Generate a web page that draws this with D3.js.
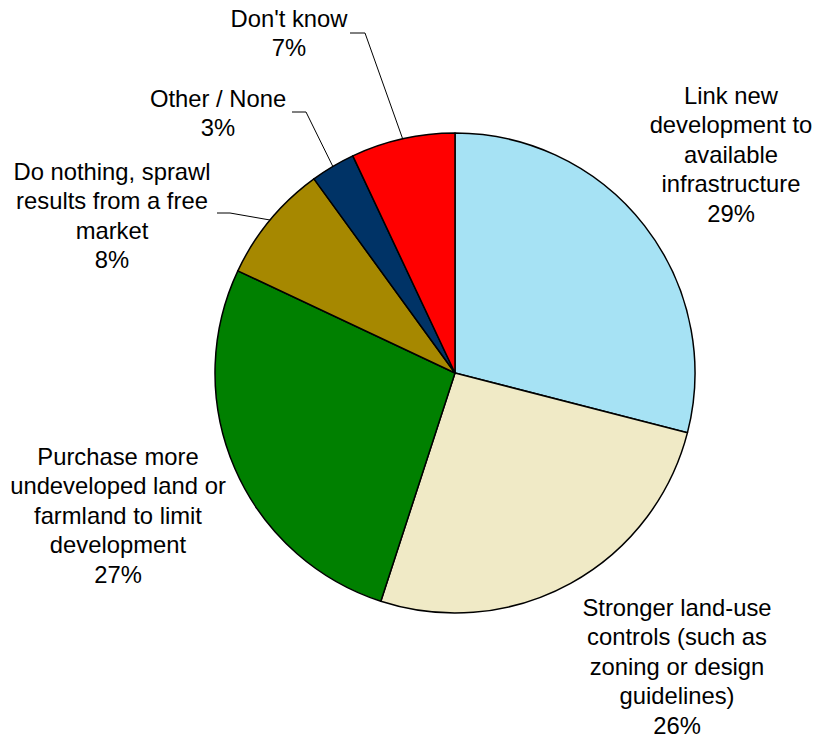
<!DOCTYPE html>
<html>
<head>
<meta charset="utf-8">
<script src="https://cdn.jsdelivr.net/npm/d3@7"></script>
<style>
  html, body { margin: 0; padding: 0; background: #ffffff; }
  svg { display: block; }
  text { font-family: "Liberation Sans", Arial, sans-serif; fill: #000; }
</style>
</head>
<body>
<svg id="chart" width="815" height="738"></svg>
<script>
// Survey answers, clockwise from 12 o'clock
const categories = [
  "Link new development to available infrastructure",
  "Stronger land-use controls (such as zoning or design guidelines)",
  "Purchase more undeveloped land or farmland to limit development",
  "Do nothing, sprawl results from a free market",
  "Other / None",
  "Don't know"
];
const values = [29, 26, 27, 8, 3, 7];
const percentLabels = ["29%", "26%", "27%", "8%", "3%", "7%"];

// Wrapped label lines for each slice
const labelLines = [
  ["Link new", "development to", "available", "infrastructure"],
  ["Stronger land-use", "controls (such as", "zoning or design", "guidelines)"],
  ["Purchase more", "undeveloped land or", "farmland to limit", "development"],
  ["Do nothing, sprawl", "results from a free", "market"],
  ["Other / None"],
  ["Don't know"]
];
const colors = ["#a6e2f4", "#f0eac6", "#008000", "#a68800", "#003366", "#ff0000"];

// Layout: label block centre x / first line centre y, and leader elbows
const labelPos = [
  { x: 731, y: 95 },
  { x: 677, y: 607 },
  { x: 118, y: 456 },
  { x: 112, y: 171 },
  { x: 218, y: 98 },
  { x: 289, y: 18 }
];
const leaders = [
  null, null, null,
  { start: [217, 213], elbow: [230, 213] },
  { start: [292, 112], elbow: [306, 112] },
  { start: [350, 33], elbow: [365, 33] }
];

const cx = 455, cy = 373, radius = 240;
const lineHeight = 29.4;
const fontSize = 23.8;

const svg = d3.select("#chart");
const g = svg.append("g").attr("transform", `translate(${cx},${cy})`);

const pie = d3.pie().sort(null).value(d => d)(values);
const arc = d3.arc().innerRadius(0).outerRadius(radius);

g.selectAll("path.slice")
  .data(pie)
  .join("path")
  .attr("class", "slice")
  .attr("d", arc)
  .attr("fill", (d, i) => colors[i])
  .attr("stroke", "#000")
  .attr("stroke-width", 1.5)
  .attr("stroke-linejoin", "round");

// Leader lines for the small slices, ending on the rim at the slice mid-angle
pie.forEach((d, i) => {
  const L = leaders[i];
  if (!L) return;
  const mid = (d.startAngle + d.endAngle) / 2;
  const ex = cx + radius * Math.sin(mid);
  const ey = cy - radius * Math.cos(mid);
  svg.append("polyline")
    .attr("points", [L.start, L.elbow, [ex, ey]].map(p => p.join(",")).join(" "))
    .attr("fill", "none")
    .attr("stroke", "#000")
    .attr("stroke-width", 1);
});

// Category labels with percentages
labelLines.forEach((lines, i) => {
  const all = lines.concat([percentLabels[i]]);
  const t = svg.append("text")
    .attr("text-anchor", "middle")
    .attr("font-size", fontSize)
    .attr("dominant-baseline", "central");
  all.forEach((s, k) => {
    t.append("tspan")
      .attr("x", labelPos[i].x)
      .attr("y", labelPos[i].y + k * lineHeight)
      .text(s);
  });
});
</script>
</body>
</html>
